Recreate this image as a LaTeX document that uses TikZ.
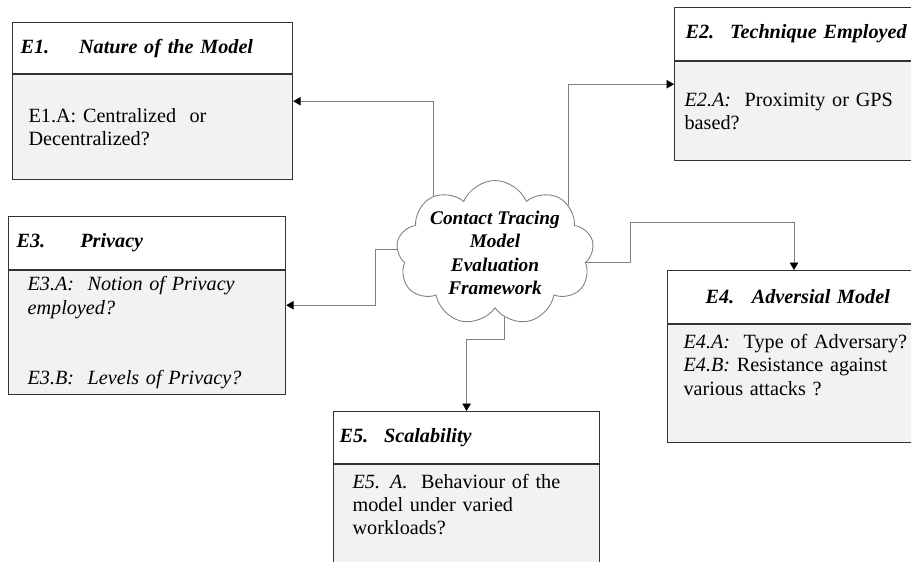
\documentclass[tikz,border=0pt]{standalone}
\usepackage{fontspec}
\setmainfont{Liberation Serif}
\usepackage{tikz}
\usetikzlibrary{positioning,shapes.symbols,arrows.meta}

\definecolor{linegray}{RGB}{128,128,128}
\definecolor{boxgray}{RGB}{242,242,242}
\definecolor{edgegray}{RGB}{51,51,51}

\begin{document}
\begin{tikzpicture}[
            x=0.02cm, y=-0.02cm,
            headbox/.style={rectangle, draw=edgegray, line width=0.7pt, fill=white, align=left, font=\fontsize{11.5}{13.3}\selectfont\bfseries\itshape},
            bodybox/.style={rectangle, draw=edgegray, line width=0.7pt, fill=boxgray, align=left, font=\fontsize{11.5}{13.3}\selectfont},
            arrow/.style={draw=linegray, line width=0.5pt, -{Triangle[length=0.15cm, width=0.17cm, color=black]}},
            hub/.style={cloud, cloud puffs=9, cloud puff arc=135, cloud ignores aspect, draw=linegray, line width=0.5pt, fill=white, align=center, font=\fontsize{11}{13.4}\selectfont\bfseries\itshape, minimum width=3.95cm, minimum height=2.9cm, inner xsep=0pt, inner ysep=-5pt}
        ]
            \useasboundingbox (0,0) rectangle (911,561);

            % E1 Block
            \node[headbox, anchor=north west, text width=5.28cm, inner xsep=0.16cm, minimum height=1.02cm] (e1head) at (12,22) {E1.\hspace{17pt}Nature of the Model};
            \node[bodybox, below=0pt of e1head, text width=4.96cm, inner xsep=0.32cm, minimum height=2.1cm] (e1body) {E1.A: Centralized\ \ or\\Decentralized?};

            % E2 Block
            \node[headbox, anchor=north west, text width=4.48cm, inner xsep=0.22cm, minimum height=1.06cm] (e2head) at (674,7) {E2.\hspace{9pt}Technique Employed};
            \node[bodybox, below=0pt of e2head, text width=4.52cm, inner xsep=0.2cm, minimum height=1.98cm] (e2body) {\textit{E2.A:}\ \ Proximity or GPS\\based?};

            % E3 Block
            \node[headbox, anchor=north west, text width=5.22cm, inner xsep=0.16cm, minimum height=1.06cm] (e3head) at (8,216) {E3.\hspace{20pt}Privacy};
            \node[bodybox, below=0pt of e3head, text width=4.78cm, inner xsep=0.38cm, minimum height=2.46cm, font=\fontsize{11.5}{13.3}\selectfont\itshape] (e3body) {E3.A:\ \ Notion of Privacy\\employed?\\[0.94cm]E3.B:\ \ Levels of Privacy?};

            % E4 Block (runs past the right edge)
            \node[headbox, anchor=north west, text width=5.24cm, inner xsep=0.76cm, minimum height=1.06cm] (e4head) at (667,270) {E4.\hspace{10pt}Adversial Model};
            \node[bodybox, below=0pt of e4head, text width=6.12cm, inner xsep=0.32cm, minimum height=2.36cm] (e4body) {\textit{E4.A:}\ \ Type of Adversary?\\\textit{E4.B:} Resistance against\\various attacks ?\\[0.3cm]\mbox{}};

            % E5 Block
            \node[headbox, anchor=north west, text width=5.08cm, inner xsep=0.12cm, minimum height=1.04cm] (e5head) at (333,411) {E5.\hspace{9pt}Scalability};
            \node[bodybox, below=0pt of e5head, text width=4.56cm, inner xsep=0.38cm, minimum height=2.4cm] (e5body) {\textit{E5. A.}\ \ Behaviour of the\\model under varied\\workloads?\\[0.35cm]\mbox{}};

            % Central cloud
            \node[hub] (frame) at (495,253) {Contact Tracing\\Model\\Evaluation\\Framework};

            % Connectors
            \draw[arrow] (frame.137) |- ([yshift=-0.54cm]e1body.north east);
            \draw[arrow] (frame.33) |- ([yshift=-0.46cm]e2body.north west);
            \draw[arrow] (frame.178) -- ++(-0.42cm,0) |- ([yshift=-0.7cm]e3body.north east);
            \draw[arrow] (frame.354) -- ++(0.88cm,0) |- ([xshift=2.54cm,yshift=0.96cm]e4head.north west) -- ([xshift=2.54cm]e4head.north west);
            \draw[arrow] (frame.278) -- ++(0,-0.44cm) -| (e5head.north);

        \end{tikzpicture}
\end{document}
